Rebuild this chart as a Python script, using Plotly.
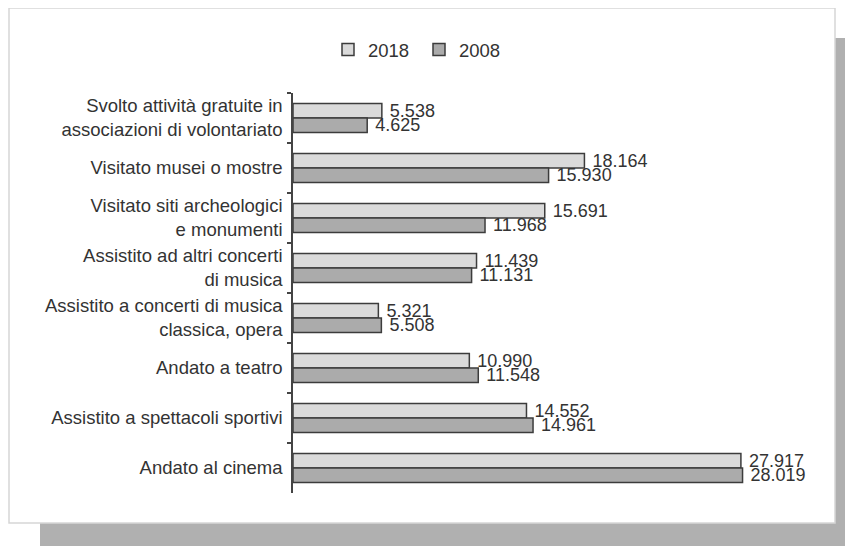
import plotly.graph_objects as go

categories = [
    "Svolto attività gratuite in<br>associazioni di volontariato",
    "Visitato musei o mostre",
    "Visitato siti archeologici<br>e monumenti",
    "Assistito ad altri concerti<br>di musica",
    "Assistito a concerti di musica<br>classica, opera",
    "Andato a teatro",
    "Assistito a spettacoli sportivi",
    "Andato al cinema",
]
values_2018 = [5538, 18164, 15691, 11439, 5321, 10990, 14552, 27917]
values_2008 = [4625, 15930, 11968, 11131, 5508, 11548, 14961, 28019]
series_names = ["2018", "2008"]

# page has an 8px body margin; work in page pixels and convert
OFF = 8
W, H = 853 - OFF, 546 - OFF
L, R, T, B = 293, 800, 93, 493          # plot area in page pixels
FONT = "Liberation Sans, Arial, sans-serif"
TXT = "#333333"
FS = 18.5


def px(x):
    return (x - L) / (R - L)


def py(y):
    return (B - y) / (B - T)


fig = go.Figure()
for name, vals, col in [(series_names[0], values_2018, "#dadada"),
                        (series_names[1], values_2008, "#ababab")]:
    fig.add_trace(go.Bar(
        y=categories, x=vals, name=name, orientation="h",
        marker=dict(color=col, line=dict(color="#3c3c3c", width=1.5)),
        texttemplate="\u00a0%{x:,}", textposition="outside",
        constraintext="none", cliponaxis=False,
        textfont=dict(family=FONT, size=18, color=TXT),
        hoverinfo="skip",
    ))

shapes = [
    # drop shadow
    dict(type="rect", xref="paper", yref="paper", layer="below",
         x0=px(40), x1=px(870), y0=py(38), y1=py(570),
         fillcolor="#b0b0b0", line=dict(width=0)),
    # white panel
    dict(type="rect", xref="paper", yref="paper", layer="below",
         x0=px(9), x1=px(835), y0=py(8), y1=py(523),
         fillcolor="white", line=dict(color="#d6d6d6", width=1.5)),
]

fig.update_layout(
    width=W, height=H,
    margin=dict(l=L - OFF, r=853 - R, t=T - OFF, b=546 - B, pad=0),
    paper_bgcolor="white", plot_bgcolor="rgba(0,0,0,0)",
    barmode="group", bargap=0.42, bargroupgap=0,
    separators=",.",
    font=dict(family=FONT, size=FS, color=TXT),
    showlegend=True,
    legend=dict(orientation="h", x=px(328), xanchor="left",
                y=py(50), yanchor="middle",
                entrywidth=46, entrywidthmode="pixels",
                font=dict(family=FONT, size=FS, color=TXT),
                bgcolor="rgba(0,0,0,0)", itemclick=False, traceorder="normal"),
    shapes=shapes,
    xaxis=dict(range=[0, 31600], visible=False, fixedrange=True),
    yaxis=dict(autorange="reversed", type="category",
               showline=True, linecolor="#444444", linewidth=1.5,
               ticks="outside", tickson="boundaries", ticklen=4,
               tickcolor="#444444", tickwidth=1.5,
               ticklabelstandoff=5,
               tickfont=dict(family=FONT, size=FS, color=TXT),
               showgrid=False, zeroline=False, fixedrange=True),
)

fig.write_html("out.html")
